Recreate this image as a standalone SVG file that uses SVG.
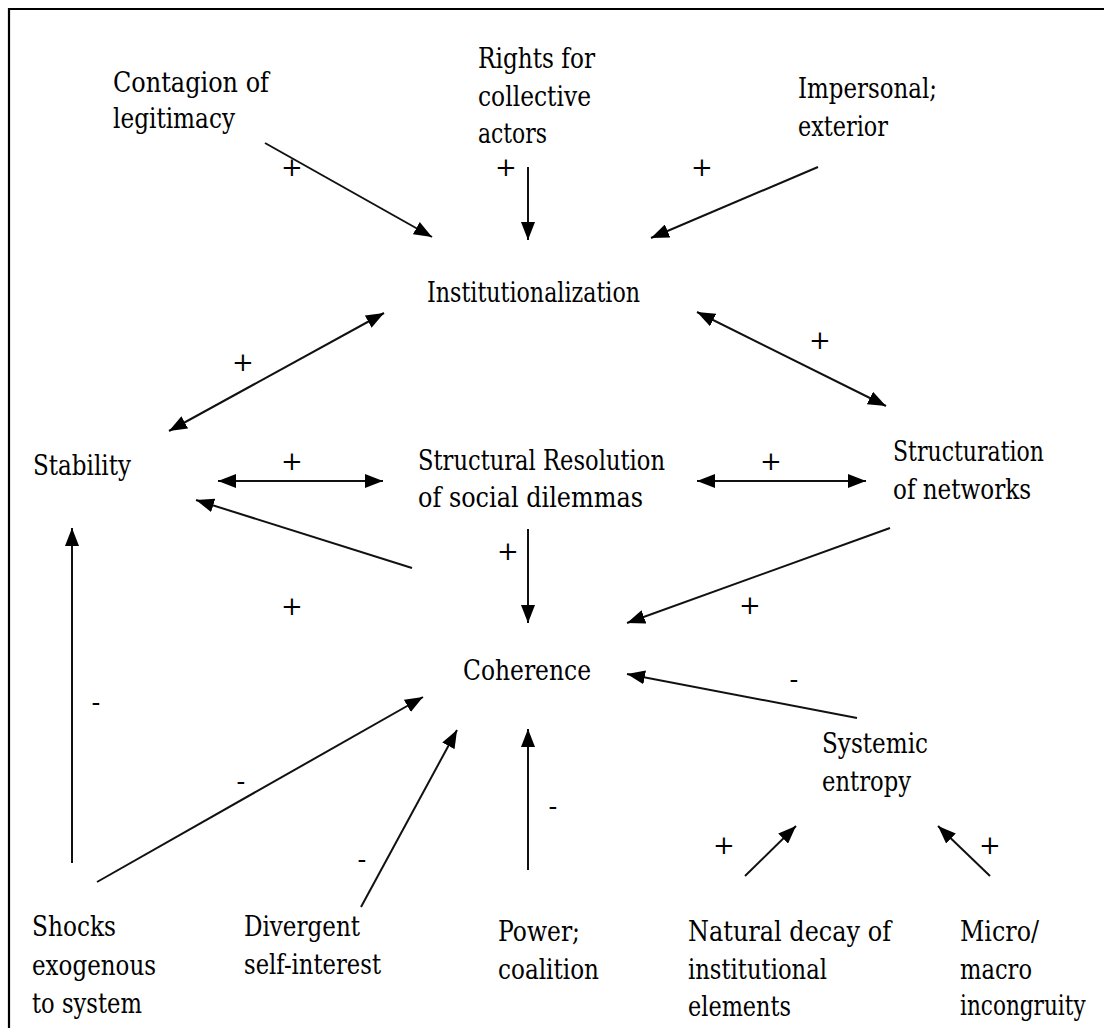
<svg xmlns="http://www.w3.org/2000/svg" width="1104" height="1028" viewBox="0 0 1104 1028">
  <style>
    text { font-family: 'DejaVu Serif', 'Liberation Serif', 'Times New Roman', serif; font-size: 27px; fill: #000; }
    .sign { text-anchor: middle; font-size: 26px; }
    .edge { stroke: #111; stroke-width: 2; fill: none; }
    .one { marker-end: url(#head); }
    .two { marker-start: url(#head); marker-end: url(#head); }
  </style>
  <defs>
    <marker id="head" markerUnits="userSpaceOnUse" markerWidth="18" markerHeight="14" refX="18" refY="7" orient="auto-start-reverse" viewBox="0 0 18 14">
      <path d="M0,0 L18,7 L0,14 z" fill="#000"/>
    </marker>
  </defs>

  <rect width="1104" height="1028" fill="#fff"/>
  <!-- frame: top and left rules -->
  <g id="frame" stroke="#000" stroke-width="2.2">
    <line x1="8" y1="9" x2="1104" y2="9"/>
    <line x1="9" y1="8" x2="9" y2="1028"/>
  </g>

  <!-- nodes -->
  <g id="contagion">
    <text x="113" y="92" textLength="156" lengthAdjust="spacingAndGlyphs">Contagion of</text>
    <text x="113" y="128" textLength="122" lengthAdjust="spacingAndGlyphs">legitimacy</text>
  </g>
  <g id="rights">
    <text x="478" y="68" textLength="117" lengthAdjust="spacingAndGlyphs">Rights for</text>
    <text x="478" y="106" textLength="113" lengthAdjust="spacingAndGlyphs">collective</text>
    <text x="478" y="143" textLength="69" lengthAdjust="spacingAndGlyphs">actors</text>
  </g>
  <g id="impersonal">
    <text x="798" y="98" textLength="139" lengthAdjust="spacingAndGlyphs">Impersonal;</text>
    <text x="798" y="136" textLength="90" lengthAdjust="spacingAndGlyphs">exterior</text>
  </g>
  <g id="institutionalization">
    <text x="427" y="302" textLength="213" lengthAdjust="spacingAndGlyphs">Institutionalization</text>
  </g>
  <g id="stability">
    <text x="33" y="475" textLength="98" lengthAdjust="spacingAndGlyphs">Stability</text>
  </g>
  <g id="resolution">
    <text x="418" y="470" textLength="247" lengthAdjust="spacingAndGlyphs">Structural Resolution</text>
    <text x="418" y="507" textLength="225" lengthAdjust="spacingAndGlyphs">of social dilemmas</text>
  </g>
  <g id="structuration">
    <text x="893" y="461" textLength="151" lengthAdjust="spacingAndGlyphs">Structuration</text>
    <text x="893" y="499" textLength="138" lengthAdjust="spacingAndGlyphs">of networks</text>
  </g>
  <g id="coherence">
    <text x="463" y="680" textLength="128" lengthAdjust="spacingAndGlyphs">Coherence</text>
  </g>
  <g id="entropy">
    <text x="822" y="753" textLength="106" lengthAdjust="spacingAndGlyphs">Systemic</text>
    <text x="822" y="791" textLength="89" lengthAdjust="spacingAndGlyphs">entropy</text>
  </g>
  <g id="shocks">
    <text x="32" y="936" textLength="84" lengthAdjust="spacingAndGlyphs">Shocks</text>
    <text x="32" y="975" textLength="124" lengthAdjust="spacingAndGlyphs">exogenous</text>
    <text x="32" y="1013" textLength="110" lengthAdjust="spacingAndGlyphs">to system</text>
  </g>
  <g id="divergent">
    <text x="244" y="936" textLength="116" lengthAdjust="spacingAndGlyphs">Divergent</text>
    <text x="244" y="974" textLength="137" lengthAdjust="spacingAndGlyphs">self-interest</text>
  </g>
  <g id="power">
    <text x="498" y="941" textLength="82" lengthAdjust="spacingAndGlyphs">Power;</text>
    <text x="498" y="979" textLength="101" lengthAdjust="spacingAndGlyphs">coalition</text>
  </g>
  <g id="decay">
    <text x="688" y="941" textLength="203" lengthAdjust="spacingAndGlyphs">Natural decay of</text>
    <text x="688" y="979" textLength="139" lengthAdjust="spacingAndGlyphs">institutional</text>
    <text x="688" y="1016" textLength="103" lengthAdjust="spacingAndGlyphs">elements</text>
  </g>
  <g id="micro">
    <text x="960" y="941" textLength="79" lengthAdjust="spacingAndGlyphs">Micro/</text>
    <text x="960" y="979" textLength="72" lengthAdjust="spacingAndGlyphs">macro</text>
    <!-- narrowed by a horizontal scale so the line stays inside the right edge -->
    <text transform="translate(960 1015) scale(0.8 1)" x="0" y="0">incongruity</text>
  </g>

  <!-- connectors -->
  <g id="connectors">
    <line class="edge one" x1="265" y1="143" x2="432" y2="237"/>
    <line class="edge one" x1="528" y1="167" x2="528" y2="240"/>
    <line class="edge one" x1="818" y1="167" x2="651" y2="238"/>
    <line class="edge two" x1="384" y1="313" x2="169" y2="431"/>
    <line class="edge two" x1="697" y1="312" x2="886" y2="406"/>
    <line class="edge two" x1="218" y1="481" x2="383" y2="481"/>
    <line class="edge two" x1="697" y1="481" x2="866" y2="481"/>
    <line class="edge one" x1="528" y1="529" x2="528" y2="623"/>
    <line class="edge one" x1="412" y1="568" x2="196" y2="500"/>
    <line class="edge one" x1="890" y1="528" x2="627" y2="623"/>
    <line class="edge one" x1="857" y1="718" x2="627" y2="674"/>
    <line class="edge one" x1="72" y1="863" x2="72" y2="528"/>
    <line class="edge one" x1="97" y1="882" x2="423" y2="697"/>
    <line class="edge one" x1="361" y1="907" x2="457" y2="730"/>
    <line class="edge one" x1="528" y1="870" x2="528" y2="729"/>
    <line class="edge one" x1="745" y1="876" x2="796" y2="826"/>
    <line class="edge one" x1="990" y1="876" x2="938" y2="826"/>
  </g>

  <!-- polarity signs -->
  <g id="signs">
    <text class="sign" x="292" y="176">+</text>
    <text class="sign" x="506" y="176">+</text>
    <text class="sign" x="702" y="176">+</text>
    <text class="sign" x="243" y="371">+</text>
    <text class="sign" x="820" y="349">+</text>
    <text class="sign" x="292" y="470">+</text>
    <text class="sign" x="771" y="470">+</text>
    <text class="sign" x="508" y="560">+</text>
    <text class="sign" x="292" y="615">+</text>
    <text class="sign" x="750" y="614">+</text>
    <text class="sign" x="794" y="688">-</text>
    <text class="sign" x="96" y="711">-</text>
    <text class="sign" x="241" y="790">-</text>
    <text class="sign" x="362" y="868">-</text>
    <text class="sign" x="553" y="815">-</text>
    <text class="sign" x="724" y="854">+</text>
    <text class="sign" x="990" y="854">+</text>
  </g>
</svg>
